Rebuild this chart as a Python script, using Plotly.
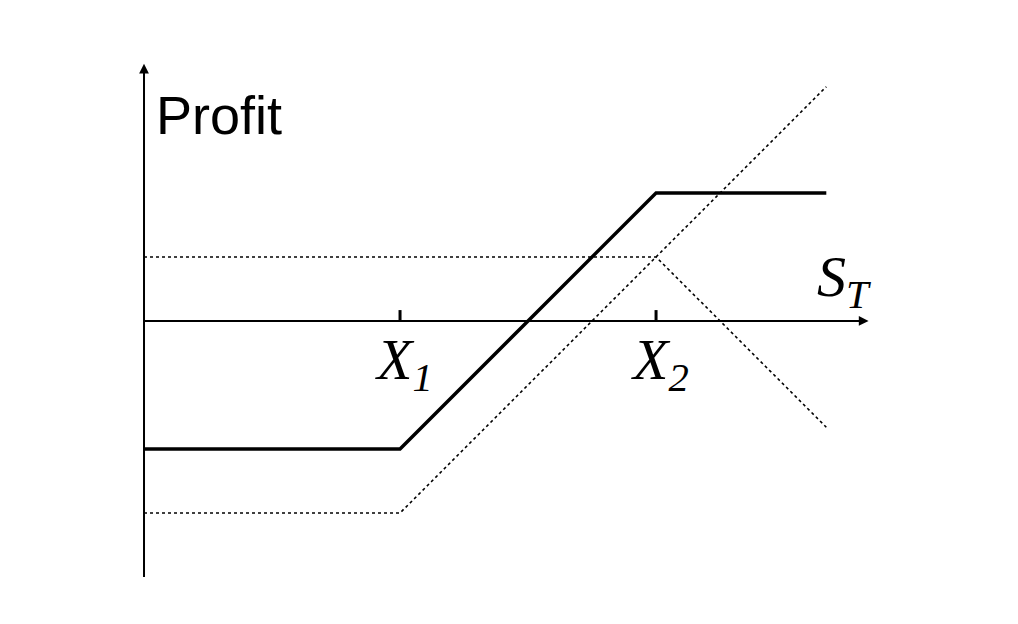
import plotly.graph_objects as go

# Stock price at expiry (S_T) breakpoints
s_long = [0, 40, 106.6]
long_call = [-30, -30, 36.6]          # long call, strike X1=40
s_short = [0, 80, 106.6]
short_call = [10, 10, -16.6]          # short call, strike X2=80
s_bull = [0, 40, 80, 106.6]
bull_spread = [-20, -20, 20, 20]      # bull spread profit

strikes = [40, 80]
strike_labels = ["X<sub>1</sub>", "X<sub>2</sub>"]

fig = go.Figure()

# axes (drawn as lines)
fig.add_trace(go.Scatter(x=[0, 0], y=[-40, 39], mode="lines",
                         line=dict(color="black", width=2), hoverinfo="skip"))
fig.add_trace(go.Scatter(x=[0, 112], y=[0, 0], mode="lines",
                         line=dict(color="black", width=2), hoverinfo="skip"))
# tick marks
for k in strikes:
    fig.add_trace(go.Scatter(x=[k, k], y=[0, 1.7], mode="lines",
                             line=dict(color="black", width=3), hoverinfo="skip"))

fig.add_trace(go.Scatter(x=s_long, y=long_call, mode="lines",
                         line=dict(color="black", width=1.6, dash="dot")))
fig.add_trace(go.Scatter(x=s_short, y=short_call, mode="lines",
                         line=dict(color="black", width=1.6, dash="dot")))
fig.add_trace(go.Scatter(x=s_bull, y=bull_spread, mode="lines",
                         line=dict(color="black", width=3.4)))

# arrow heads
fig.add_annotation(x=0, y=40.2, ax=0, ay=36, xref="x", yref="y", axref="x", ayref="y",
                   showarrow=True, arrowhead=2, arrowsize=1.3, arrowwidth=1.5,
                   arrowcolor="black", text="")
fig.add_annotation(x=113.2, y=0, ax=108, ay=0, xref="x", yref="y", axref="x", ayref="y",
                   showarrow=True, arrowhead=2, arrowsize=1.3, arrowwidth=1.5,
                   arrowcolor="black", text="")

fig.add_annotation(x=1.5, y=32.2, xref="x", yref="y", text="Profit", showarrow=False,
                   xanchor="left", yanchor="middle",
                   font=dict(family="Liberation Sans, Arial", size=54, color="black"))
for k, lab in zip(strikes, strike_labels):
    fig.add_annotation(x=k + 0.6, y=-6.6, xref="x", yref="y", text="<i>" + lab + "</i>",
                       showarrow=False, xanchor="center", yanchor="middle",
                       font=dict(family="Liberation Serif, Times New Roman", size=58, color="black"))
fig.add_annotation(x=109.3, y=6.3, xref="x", yref="y", text="<i>S<sub>T</sub></i>",
                   showarrow=False, xanchor="center", yanchor="middle",
                   font=dict(family="Liberation Serif, Times New Roman", size=58, color="black"))

fig.update_layout(
    width=1018, height=624,
    margin=dict(l=0, r=0, t=0, b=0),
    paper_bgcolor="white", plot_bgcolor="white",
    showlegend=False,
    xaxis=dict(range=[-21.25, 137.8], visible=False, fixedrange=True),
    yaxis=dict(range=[-48.6, 48.9], visible=False, fixedrange=True),
)

fig.write_html("out.html")
